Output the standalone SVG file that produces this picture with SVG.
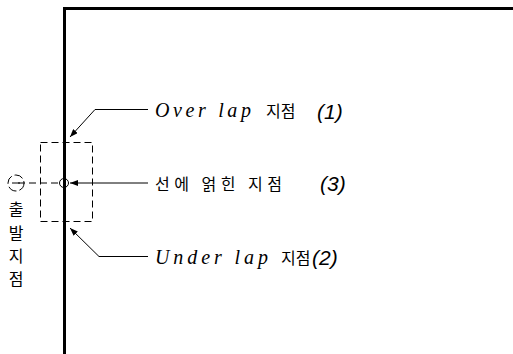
<svg xmlns="http://www.w3.org/2000/svg" width="513" height="354" viewBox="0 0 513 354">
  <style>
    .frame { fill: none; stroke: #000; stroke-width: 3; }
    .dash { fill: none; stroke: #000; stroke-width: 1; stroke-dasharray: 7 4; }
    .lead { fill: none; stroke: #000; stroke-width: 1; }
    .lat { font-family: "Liberation Serif", "Times New Roman", serif; font-style: italic; font-size: 20px; fill: #000; }
    .num { font-family: "Liberation Sans", Arial, sans-serif; font-style: italic; font-size: 21px; fill: #000; }
    .ko { font-family: "Noto Sans CJK KR", "Noto Sans", sans-serif; font-size: 16px; fill: #000; }
    .kov { font-family: "Noto Sans CJK KR", "Noto Sans", sans-serif; font-size: 16px; fill: #000; }
  </style>
  <defs>
    <marker id="arrow" viewBox="0 0 8 6" refX="8" refY="3" markerWidth="8" markerHeight="6" markerUnits="userSpaceOnUse" orient="auto">
      <path d="M0,0 L8,3 L0,6 Z" fill="#000"/>
    </marker>
  </defs>

  <rect width="513" height="354" fill="#fff"/>

  <!-- outer frame edge -->
  <path class="frame" d="M64.5,354 V8.5 H513"/>

  <!-- start point: dashed window, circle on the edge, start mark -->
  <g id="start-point">
    <rect class="dash" x="40.5" y="142.5" width="52" height="79"/>
    <line class="dash" x1="18" y1="183" x2="60" y2="183"/>
    <circle class="lead" cx="64" cy="183" r="4.5"/>
    <circle cx="16" cy="183" r="8" fill="none" stroke="#000" stroke-width="1" stroke-dasharray="9 3"/>
    <line class="lead" x1="12" y1="183" x2="20" y2="183"/>
    <text class="kov" x="16" y="215" text-anchor="middle">출</text>
    <text class="kov" x="16" y="239" text-anchor="middle">발</text>
    <text class="kov" x="16" y="262" text-anchor="middle">지</text>
    <text class="kov" x="16" y="285" text-anchor="middle">점</text>
  </g>

  <!-- leaders -->
  <g id="connectors">
    <polyline class="lead" points="148,109.5 95,109.5 70,137" marker-end="url(#arrow)"/>
    <line class="lead" x1="148" y1="183" x2="70" y2="183" marker-end="url(#arrow)"/>
    <polyline class="lead" points="148,256.5 99,256.5 70,228" marker-end="url(#arrow)"/>
  </g>

  <g id="label-overlap">
    <text class="lat" x="155" y="117" textLength="96" lengthAdjust="spacing">Over lap</text>
    <text class="ko" x="266" y="117">지점</text>
    <text class="num" x="317" y="119">(1)</text>
  </g>

  <g id="label-on-line">
    <text class="ko" x="155" y="190" textLength="127" lengthAdjust="spacing">선에 얽힌 지점</text>
    <text class="num" x="320" y="191">(3)</text>
  </g>

  <g id="label-underlap">
    <text class="lat" x="155" y="264" textLength="113" lengthAdjust="spacing">Under lap</text>
    <text class="ko" x="281" y="264">지점</text>
    <text class="num" x="312" y="265">(2)</text>
  </g>
</svg>
